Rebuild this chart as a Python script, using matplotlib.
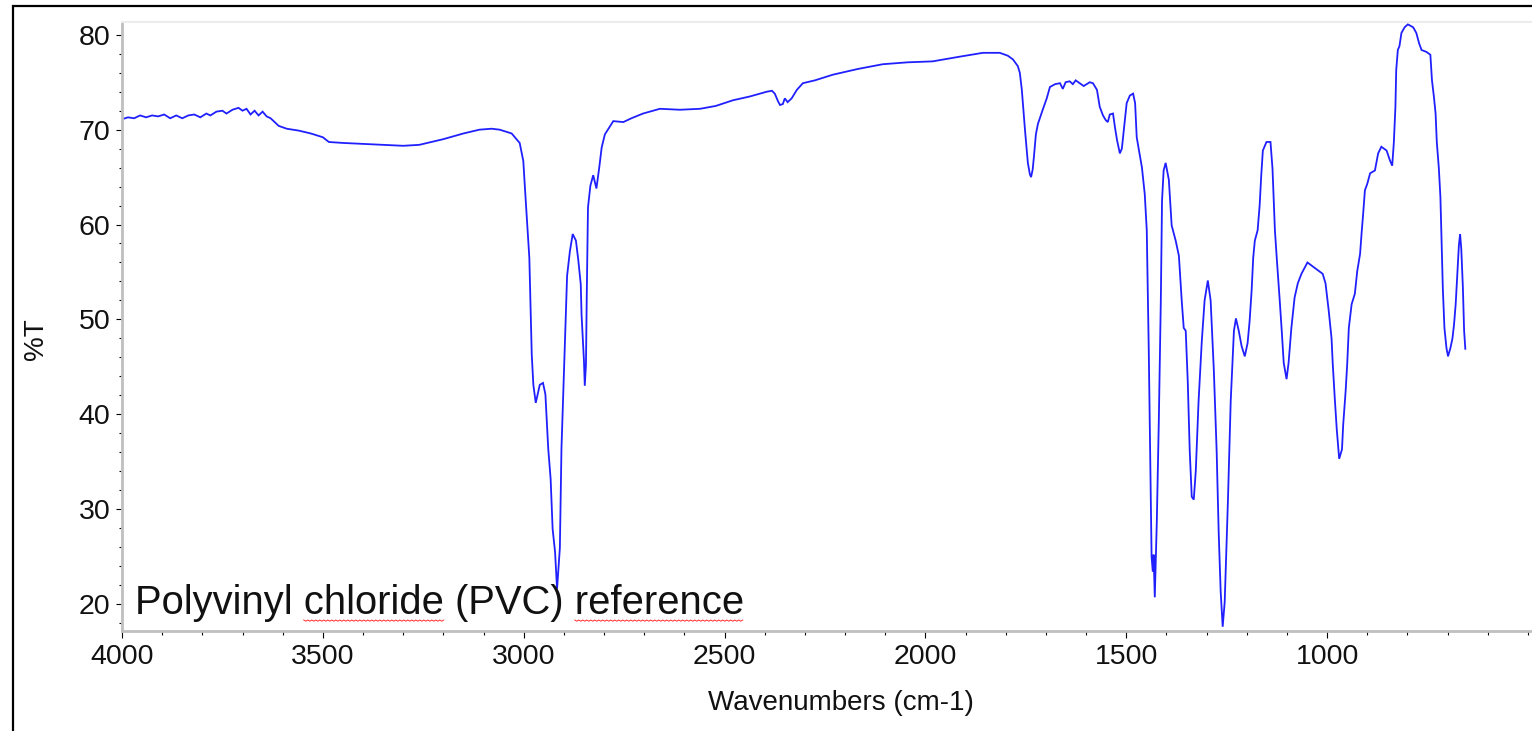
import matplotlib
matplotlib.use("Agg")
import matplotlib.pyplot as plt
from matplotlib.ticker import MultipleLocator
from matplotlib.lines import Line2D
from matplotlib.patches import Rectangle
from matplotlib.transforms import IdentityTransform

# ---- data ----
wavenumber = [
    4000, 3985, 3970, 3955, 3940, 3925, 3910, 3895, 3880, 3865, 3850, 3835, 3820, 3805,
    3790, 3780, 3765, 3750, 3740, 3725, 3710, 3700, 3690, 3680, 3670, 3660, 3650, 3640,
    3630, 3610, 3590, 3560, 3530, 3500, 3485, 3450, 3400, 3350, 3300, 3260, 3230, 3200,
    3150, 3110, 3080, 3060, 3030, 3010, 3001, 2997, 2986, 2980, 2976, 2970, 2960, 2952,
    2946, 2939, 2933, 2928, 2922, 2917, 2910, 2906, 2900, 2895, 2892, 2885, 2878, 2870,
    2864, 2858, 2856, 2850, 2848, 2845, 2843, 2840, 2834, 2827, 2819, 2812, 2806, 2798,
    2777, 2752, 2732, 2703, 2661, 2611, 2561, 2522, 2479, 2437, 2395, 2382, 2375, 2367,
    2362, 2355, 2350, 2343, 2333, 2320, 2305, 2275, 2230, 2168, 2106, 2044, 1982, 1914,
    1857, 1815, 1795, 1782, 1770, 1765, 1760, 1755, 1752, 1745, 1740, 1737, 1733, 1730,
    1725, 1720, 1708, 1698, 1690, 1677, 1665, 1658, 1651, 1641, 1633, 1626, 1616, 1606,
    1591, 1583, 1573, 1566, 1558, 1551, 1546, 1541, 1533, 1528, 1523, 1516, 1511, 1508,
    1499, 1491, 1483, 1478, 1474, 1461, 1454, 1449, 1444, 1439, 1437, 1434, 1432, 1429,
    1424, 1419, 1414, 1411, 1407, 1402, 1394, 1387, 1377, 1369, 1362, 1357, 1352, 1347,
    1342, 1337, 1332, 1327, 1320, 1312, 1305, 1297, 1290, 1282, 1275, 1270, 1265, 1260,
    1255, 1247, 1240, 1232, 1227, 1220, 1213, 1205, 1198, 1193, 1188, 1184, 1180, 1173,
    1168, 1164, 1160, 1151, 1141, 1136, 1130, 1125, 1118, 1113, 1108, 1101, 1096, 1089,
    1081, 1073, 1064, 1049, 1027, 1011, 1004, 996, 989, 986, 981, 976, 972, 970,
    963, 960, 954, 950, 946, 939, 931, 925, 918, 914, 910, 906, 900, 893,
    881, 873, 865, 852, 844, 838, 834, 830, 828, 824, 820, 815, 807, 799,
    786, 778, 771, 765, 753, 743, 739, 734, 730, 727, 722, 718, 715, 712,
    708, 703, 699, 693, 688, 684, 680, 676, 672, 669, 666, 662, 659, 656,
]
transmittance = [
    71.1, 71.3, 71.2, 71.5, 71.3, 71.5, 71.4, 71.6, 71.2, 71.5, 71.2, 71.5, 71.6, 71.3,
    71.7, 71.5, 71.9, 72.0, 71.7, 72.1, 72.3, 72.0, 72.2, 71.6, 72.0, 71.5, 71.9, 71.4,
    71.2, 70.4, 70.1, 69.9, 69.6, 69.2, 68.7, 68.6, 68.5, 68.4, 68.3, 68.4, 68.7, 69.0,
    69.6, 70.0, 70.1, 70.0, 69.6, 68.6, 66.7, 63.9, 56.5, 46.3, 43.1, 41.2, 43.1, 43.3,
    42.1, 36.4, 33.2, 27.9, 25.5, 21.6, 25.9, 36.4, 44.2, 50.8, 54.6, 57.2, 59.0, 58.3,
    56.2, 53.7, 50.5, 45.6, 43.0, 45.3, 52.7, 61.8, 64.1, 65.2, 63.8, 66.0, 68.1, 69.5,
    70.9, 70.8, 71.2, 71.7, 72.2, 72.1, 72.2, 72.5, 73.1, 73.5, 74.0, 74.1, 73.8, 73.0,
    72.6, 72.7, 73.3, 72.9, 73.3, 74.2, 74.9, 75.2, 75.8, 76.4, 76.9, 77.1, 77.2, 77.7,
    78.1, 78.1, 77.8, 77.4, 76.7, 76.0, 74.2, 71.5, 69.9, 66.5, 65.3, 65.0, 65.8, 67.1,
    69.5, 70.6, 72.1, 73.3, 74.5, 74.8, 74.9, 74.3, 75.0, 75.1, 74.8, 75.2, 74.9, 74.6,
    75.0, 74.9, 74.2, 72.4, 71.5, 71.0, 70.8, 71.6, 71.7, 70.2, 68.9, 67.5, 68.0, 69.2,
    72.8, 73.6, 73.8, 72.8, 69.2, 66.0, 63.2, 59.4, 46.7, 30.8, 25.0, 23.4, 25.2, 20.7,
    28.7, 39.3, 52.0, 62.5, 65.7, 66.5, 64.7, 59.9, 58.3, 56.7, 52.0, 49.1, 48.8, 43.5,
    36.1, 31.3, 31.0, 34.0, 41.4, 47.7, 52.0, 54.1, 52.0, 44.6, 36.1, 27.6, 21.3, 17.6,
    20.2, 30.8, 41.4, 48.8, 50.1, 48.8, 47.2, 46.1, 47.5, 49.8, 53.0, 56.5, 58.3, 59.4,
    62.0, 65.2, 67.8, 68.7, 68.7, 65.9, 59.4, 56.2, 52.0, 48.8, 45.4, 43.7, 45.4, 49.1,
    52.3, 53.8, 54.8, 56.0, 55.3, 54.8, 53.8, 50.9, 48.0, 45.3, 41.7, 38.4, 36.3, 35.3,
    36.3, 38.9, 42.4, 45.3, 49.1, 51.6, 52.7, 55.1, 56.9, 59.2, 61.3, 63.6, 64.3, 65.4,
    65.7, 67.5, 68.2, 67.8, 66.8, 66.2, 68.6, 72.4, 76.3, 78.4, 78.8, 80.2, 80.8, 81.1,
    80.8, 80.2, 79.1, 78.4, 78.2, 77.9, 75.2, 73.4, 71.7, 68.7, 66.0, 62.9, 58.3, 53.3,
    49.1, 47.0, 46.1, 47.0, 48.0, 49.5, 51.6, 54.8, 57.8, 59.0, 57.4, 53.3, 48.8, 46.9,
]
x_ticks = [4000, 3500, 3000, 2500, 2000, 1500, 1000]
y_ticks = [20, 30, 40, 50, 60, 70, 80]
title_text = "Polyvinyl chloride (PVC) reference"
x_label = "Wavenumbers (cm-1)"
y_label = "%T"

FONT = "Liberation Sans"
plt.rcParams["font.family"] = [FONT, "DejaVu Sans"]

W, H = 1532, 731
fig = plt.figure(figsize=(W / 100, H / 100), dpi=100)
fig.patch.set_facecolor("white")

ax_left, ax_right, ax_top, ax_bottom = 122, 1532, 22, 631
ax = fig.add_axes([ax_left / W, 1 - ax_bottom / H, (ax_right - ax_left) / W, (ax_bottom - ax_top) / H])

ax.plot(wavenumber, transmittance, color="#2020ff", lw=1.3, solid_joinstyle="miter")

ax.set_xlim(4000, 490)
ax.set_ylim(17.15, 81.35)
ax.set_xticks(x_ticks)
ax.set_yticks(y_ticks)
ax.xaxis.set_minor_locator(MultipleLocator(100))
ax.yaxis.set_minor_locator(MultipleLocator(2))

for s in ("left", "bottom"):
    ax.spines[s].set_color("#bfbfbf")
    ax.spines[s].set_linewidth(2.0)
ax.spines["top"].set_color("#ececec")
ax.spines["top"].set_linewidth(1.5)
ax.spines["right"].set_visible(False)

ax.tick_params(axis="both", which="both", color="black", width=0.8, direction="out",
               labelsize=20.5, labelcolor="#111111")
ax.tick_params(axis="y", which="major", length=4.5, pad=4)
ax.tick_params(axis="y", which="minor", length=2.2)
ax.tick_params(axis="x", which="major", length=5, pad=4)
ax.tick_params(axis="x", which="minor", length=3)

ax.set_xlabel(x_label, fontsize=20, color="#111111")
ax.set_ylabel(y_label, fontsize=20, color="#111111")
ax.xaxis.set_label_coords((841 - ax_left) / (ax_right - ax_left), (ax_bottom - 703) / (ax_bottom - ax_top))
ax.yaxis.set_label_coords((36 - ax_left) / (ax_right - ax_left), (ax_bottom - 339) / (ax_bottom - ax_top))
ax.xaxis.label.set_va("center")
ax.yaxis.label.set_va("center")

tx = ax.text((135 - ax_left) / (ax_right - ax_left), (ax_bottom - 614) / (ax_bottom - ax_top), title_text,
             transform=ax.transAxes, fontsize=28.8, va="baseline", ha="left", color="#111111")

# spell-check style red squiggles under "chloride" and "reference"
fig.canvas.draw()
r = fig.canvas.get_renderer()


def text_width(s):
    t = ax.text(0, 0, s + "x", fontsize=28.8, transform=ax.transAxes)
    t2 = ax.text(0, 0, "x", fontsize=28.8, transform=ax.transAxes)
    w = t.get_window_extent(r).width - t2.get_window_extent(r).width
    t.remove()
    t2.remove()
    return w


x0_disp = tx.get_window_extent(r).x0
base_disp = ax.transAxes.transform((0, (ax_bottom - 614) / (ax_bottom - ax_top)))[1]
for word in ("chloride", "reference"):
    start = title_text.index(word)
    xs0 = x0_disp + text_width(title_text[:start])
    xs1 = xs0 + text_width(word)
    xs, ys = [], []
    xx = xs0
    k = 0
    while xx <= xs1:
        xs.append(xx)
        ys.append(base_disp - 6 - (1.2 if k % 2 else 0))
        xx += 2.0
        k += 1
    fig.add_artist(Line2D(xs, ys, transform=IdentityTransform(), color="#ff3030", lw=0.7))

# outer black frame (left and top edges visible)
fig.add_artist(Rectangle((12.5 / W, -0.2), 1.5, 1.2 - 6 / H, transform=fig.transFigure,
                         fill=False, edgecolor="black", lw=1.6, clip_on=False))

fig.savefig("out.png", dpi=100, facecolor="white")
